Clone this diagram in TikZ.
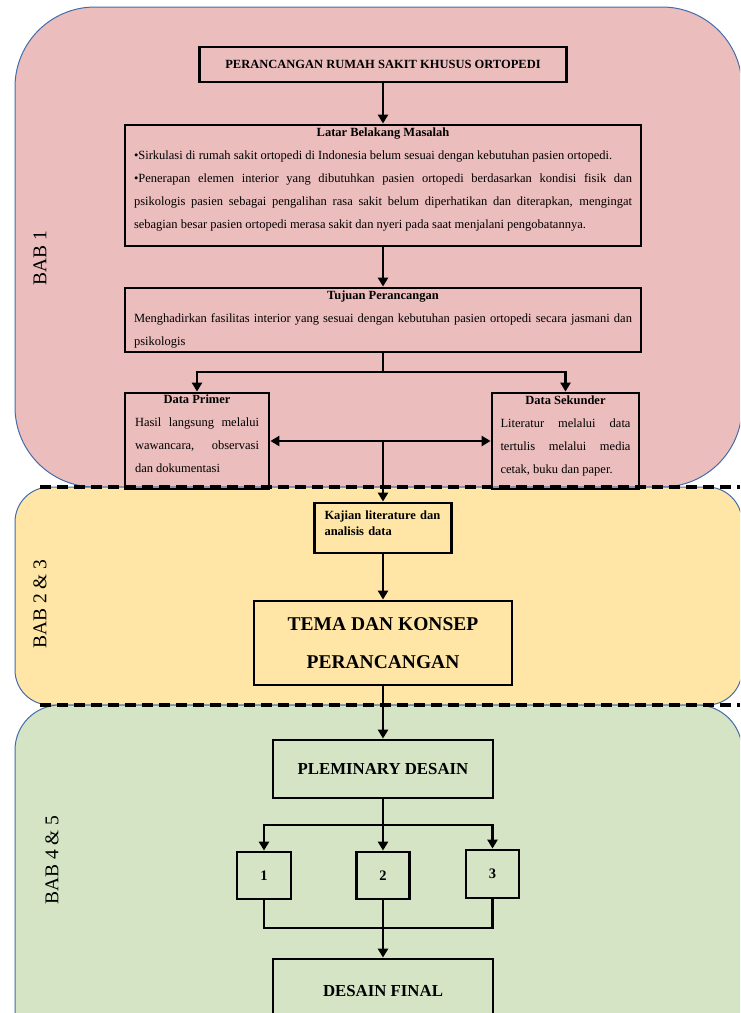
\documentclass[tikz,border=0pt]{standalone}
\usepackage{fontspec}
\setmainfont{Liberation Serif}
\usetikzlibrary{positioning,arrows.meta}

\definecolor{babmerah}{RGB}{236,189,189}
\definecolor{babkuning}{RGB}{255,230,166}
\definecolor{babhijau}{RGB}{212,228,196}
\definecolor{babgaris}{RGB}{68,108,170}

\newcommand{\judulkotak}[1]{\centerline{\bfseries\fontsize{12.5}{23}\selectfont #1}}
\newcommand{\ruangbawah}[1]{\par\vspace{#1}\hrule height 0pt}

\begin{document}
\begin{tikzpicture}[x=1pt,y=-1pt,>={Triangle[length=9pt,width=10pt]},
    box/.style={draw,rectangle,line width=2.8pt,inner sep=0pt,font=\fontsize{12.5}{23}\selectfont},
    link/.style={->,line width=2.7pt},
    bab/.style={draw=babgaris,line width=1pt,rounded corners=#1},
    babteks/.style={rotate=90,font=\fontsize{19.5}{20}\selectfont},
    sekat/.style={line width=4pt,dash pattern=on 11pt off 6pt}]

    \useasboundingbox (0,0) rectangle (740,1013);
    \clip (0,0) rectangle (740,1013);

    % latar tiap bab
    \draw[bab=80pt,fill=babmerah] (15,7) rectangle (742,487);
    \draw[bab=35pt,fill=babkuning] (15,487) rectangle (742,705);
    \draw[bab=45pt,fill=babhijau] (15,705) rectangle (742,1060);

    \node[babteks] (bab1) at (40,258) {BAB 1};
    \node[babteks] (bab23) at (40,604) {BAB 2 \& 3};
    \node[babteks] (bab45) at (52,860) {BAB 4 \& 5};

    % BAB 1
    \node[box,minimum width=367pt,minimum height=35pt,font=\bfseries\fontsize{12.5}{15}\selectfont] (judul) at (383,64.5) {PERANCANGAN RUMAH SAKIT KHUSUS ORTOPEDI};

    \node[box,text width=498pt,inner xsep=9pt,minimum height=121pt,align=justify] (latar) at (383,185.5)
        {\judulkotak{Latar Belakang Masalah}
        •Sirkulasi di rumah sakit ortopedi di Indonesia belum sesuai dengan kebutuhan pasien ortopedi.\par
        •Penerapan elemen interior yang dibutuhkan pasien ortopedi berdasarkan kondisi fisik dan\linebreak
        psikologis pasien sebagai pengalihan rasa sakit belum diperhatikan dan diterapkan, mengingat\linebreak
        sebagian besar pasien ortopedi merasa sakit dan nyeri pada saat menjalani pengobatannya.\ruangbawah{12pt}};

    \node[box,text width=498pt,inner xsep=9pt,minimum height=64pt,align=justify] (tujuan) at (383,320)
        {\judulkotak{Tujuan Perancangan}
        Menghadirkan fasilitas interior yang sesuai dengan kebutuhan pasien ortopedi secara jasmani dan\linebreak
        psikologis};

    \node[box,text width=124pt,inner xsep=10pt,minimum height=96pt,align=justify] (primer) at (197,441)
        {\judulkotak{Data Primer}
        Hasil langsung melalui\linebreak wawancara, observasi\linebreak dan dokumentasi\ruangbawah{14pt}};

    \node[box,text width=130pt,inner xsep=8.5pt,minimum height=96pt,align=justify] (sekunder) at (565.5,441)
        {\judulkotak{Data Sekunder}
        Literatur melalui data\linebreak tertulis melalui media\linebreak cetak, buku dan paper.\ruangbawah{10pt}};

    % BAB 2 & 3
    \node[box,text width=117pt,inner xsep=10pt,minimum height=50pt,align=left,font=\bfseries\fontsize{12.5}{16}\selectfont] (kajian) at (383,528)
        {Kajian literature dan\\analisis data\ruangbawah{10pt}};

    \node[box,minimum width=258pt,minimum height=84pt,align=center,font=\bfseries\fontsize{19.5}{38}\selectfont] (tema) at (383,643)
        {TEMA DAN KONSEP\\PERANCANGAN};

    % BAB 4 & 5
    \node[box,minimum width=220pt,minimum height=58pt,font=\bfseries\fontsize{16.8}{20}\selectfont] (plem) at (383,769) {PLEMINARY DESAIN};

    \node[box,minimum width=54pt,minimum height=47pt,font=\bfseries\fontsize{14.5}{16}\selectfont] (pilih1) at (264,875.5) {1};
    \node[box,minimum width=53pt,minimum height=47pt,font=\bfseries\fontsize{14.5}{16}\selectfont] (pilih2) at (383,875.5) {2};
    \node[box,minimum width=53pt,minimum height=48pt,font=\bfseries\fontsize{14.5}{16}\selectfont] (pilih3) at (492.5,874) {3};

    \node[box,minimum width=220pt,minimum height=65pt,font=\bfseries\fontsize{16.8}{20}\selectfont] (final) at (383,991.5) {DESAIN FINAL};

    \coordinate (cabang) at (383,372);
    \coordinate (tengah) at (383,441);
    \coordinate (pecah) at (383,825);
    \coordinate (gabung) at (383,928);

    \draw[link] (judul) -- (latar);
    \draw[link] (latar) -- (tujuan);
    \draw[link] (tujuan) -- (cabang) -| (primer);
    \draw[link] (cabang) -| (sekunder);
    \draw[<->,line width=2.7pt] (primer) -- (sekunder);
    \draw[link] (tengah) -- (kajian);
    \draw[link] (kajian) -- (tema);
    \draw[link] (tema) -- (plem);
    \draw[link] (plem) -- (pecah) -| (pilih1);
    \draw[link] (pecah) -- (pilih2);
    \draw[link] (pecah) -| (pilih3);
    \draw[line width=2.7pt] (pilih1) |- (gabung) -| (pilih3);
    \draw[link] (pilih2) -- (final);

    % garis batas bab
    \draw[sekat] (40,487) -- (740,487);
    \draw[sekat] (40,705) -- (740,705);
\end{tikzpicture}
\end{document}
